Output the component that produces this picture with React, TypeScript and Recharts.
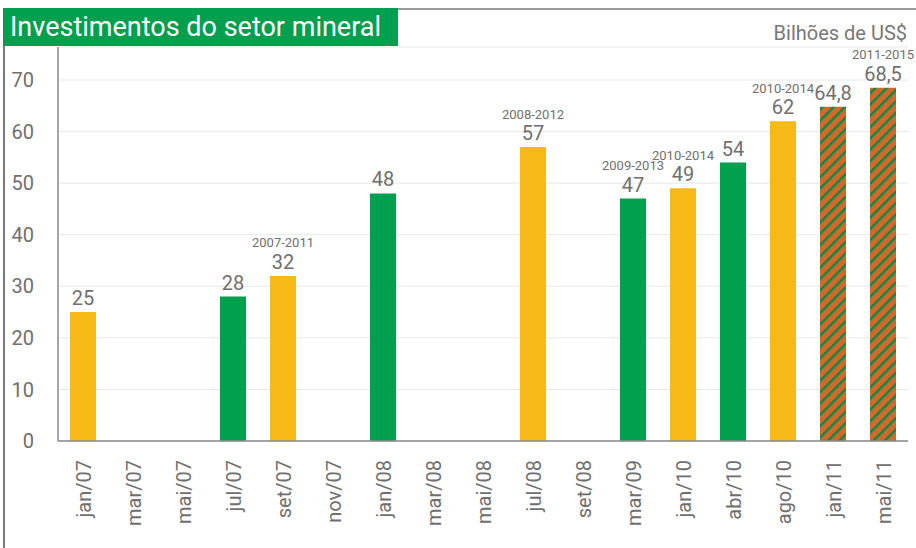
import { BarChart, Bar, XAxis, YAxis, CartesianGrid, Cell, LabelList } from 'recharts';

const meses = [
  'jan/07', 'mar/07', 'mai/07', 'jul/07', 'set/07', 'nov/07', 'jan/08', 'mar/08', 'mai/08',
  'jul/08', 'set/08', 'mar/09', 'jan/10', 'abr/10', 'ago/10', 'jan/11', 'mai/11',
];
const valores = [25, null, null, 28, 32, null, 48, null, null, 57, null, 47, 49, 54, 62, 64.8, 68.5];
// tipo de barra: a = amarelo, v = verde, h = hachurado
const tipos = ['a', '', '', 'v', 'a', '', 'v', '', '', 'a', '', 'v', 'a', 'v', 'a', 'h', 'h'];
const periodos = ['', '', '', '', '2007-2011', '', '', '', '', '2008-2012', '', '2009-2013', '2010-2014', '', '2010-2014', '', '2011-2015'];
const yTicks = [0, 10, 20, 30, 40, 50, 60, 70];

const cores: Record<string, string> = { a: '#f7b918', v: '#00a04e', h: 'url(#hachura)' };
const cinza = '#6f6f6f';
const fonte = 'Roboto, sans-serif';

const data = meses.map((mes, i) => ({ mes, valor: valores[i], tipo: tipos[i], periodo: periodos[i] }));

function MesTick({ x, y, payload }: any) {
  return (
    <text
      x={x + 1}
      y={y + 11}
      transform={`rotate(-90, ${x + 1}, ${y + 11})`}
      textAnchor="end"
      dominantBaseline="central"
      fill={cinza}
      fontSize={20}
      fontFamily={fonte}
    >
      {payload.value}
    </text>
  );
}

function ValorLabel({ x, y, width, value }: any) {
  if (value == null) return null;
  return (
    <text x={x + width / 2} y={y - 14} textAnchor="middle" dominantBaseline="central" fill={cinza} fontSize={20} fontFamily={fonte}>
      {String(value).replace('.', ',')}
    </text>
  );
}

function PeriodoLabel({ x, y, width, value }: any) {
  if (!value) return null;
  return (
    <text x={x + width / 2} y={y - 33} textAnchor="middle" dominantBaseline="central" fill={cinza} fontSize={13} fontFamily={fonte}>
      {value}
    </text>
  );
}

export default function App() {
  return (
    <div style={{ position: 'absolute', left: 0, top: 0, width: 916, height: 548, background: '#fff', fontFamily: fonte }}>
      <div style={{ position: 'absolute', left: 3, top: 46, width: 1.5, height: 502, background: '#7a7a7a' }} />
      <div style={{ position: 'absolute', left: 398, top: 8, right: 0, height: 1.5, background: '#9a9a9a' }} />
      <div
        style={{
          position: 'absolute', left: 3, top: 8, width: 395, height: 38, background: '#00a04e',
          color: '#fff', fontSize: 27, lineHeight: '38px', paddingLeft: 7, boxSizing: 'border-box', whiteSpace: 'nowrap',
        }}
      >
        Investimentos do setor mineral
      </div>
      <div style={{ position: 'absolute', right: 9, top: 20, color: '#777', fontSize: 20, lineHeight: '26px' }}>
        Bilhões de US$
      </div>
      <BarChart width={916} height={548} data={data} margin={{ top: 47, right: 8, bottom: 0, left: 0 }} barSize={26}>
        <defs>
          <pattern id="hachura" patternUnits="userSpaceOnUse" width={8} height={8} patternTransform="rotate(45)">
            <rect width={8} height={8} fill="#d2692a" />
            <rect x={0} y={0} width={2.4} height={8} fill="#0b8a45" />
          </pattern>
        </defs>
        <CartesianGrid vertical={false} stroke="#e8e8e8" />
        <XAxis
          dataKey="mes"
          height={107}
          interval={0}
          tick={<MesTick />}
          tickLine={false}
          axisLine={{ stroke: '#8a8a8a', strokeWidth: 1.5 }}
        />
        <YAxis
          width={58}
          domain={[0, 76.4]}
          ticks={yTicks}
          tickLine={false}
          tickSize={6}
          tickMargin={18}
          axisLine={{ stroke: '#8a8a8a', strokeWidth: 1.5 }}
          tick={{ fill: cinza, fontSize: 20, fontFamily: fonte }}
        />
        <Bar dataKey="valor" isAnimationActive={false}>
          {data.map((d, i) => (
            <Cell key={i} fill={cores[d.tipo] || 'none'} />
          ))}
          <LabelList dataKey="valor" content={<ValorLabel />} />
          <LabelList dataKey="periodo" content={<PeriodoLabel />} />
        </Bar>
      </BarChart>
    </div>
  );
}
